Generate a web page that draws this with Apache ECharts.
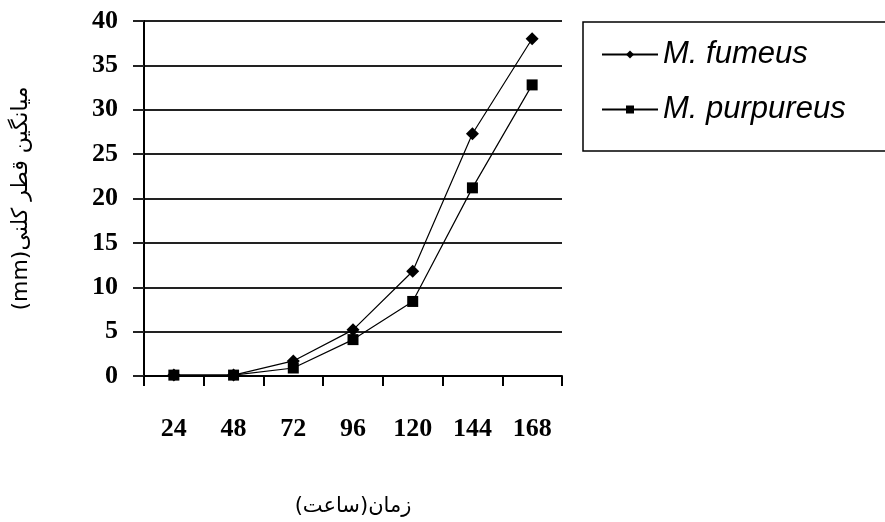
<!DOCTYPE html>
<html>
<head>
<meta charset="utf-8">
<script src="https://cdn.jsdelivr.net/npm/echarts@6/dist/echarts.min.js"></script>
<style>
  html, body { margin: 0; padding: 0; background: #fff; }
  #chart { width: 885px; height: 522px; }
</style>
</head>
<body>
<div id="chart"></div>
<script>
// Incubation time (hours)
const hours = ['24', '48', '72', '96', '120', '144', '168'];
// Mean colony diameter (mm) per species
const fumeus = [0.1, 0.1, 1.7, 5.2, 11.8, 27.3, 38.0];
const purpureus = [0.1, 0.1, 0.9, 4.1, 8.4, 21.2, 32.8];
const seriesNames = ['M. fumeus', 'M. purpureus'];
const yTicks = { min: 0, max: 40, step: 5 };

const chart = echarts.init(document.getElementById('chart'), null, { renderer: 'canvas' });

const tickFont = { fontFamily: 'Liberation Serif', fontWeight: 'bold', fontSize: 26, color: '#000' };

chart.setOption({
  animation: false,
  backgroundColor: '#fff',
  grid: { left: 144, right: 323, top: 21, bottom: 142, containLabel: false },
  legend: {
    orient: 'vertical',
    left: 596,
    top: 34,
    itemWidth: 56,
    itemHeight: 10,
    itemGap: 24,
    textStyle: { fontFamily: 'Liberation Sans', fontStyle: 'italic', fontSize: 31, color: '#000' },
    data: seriesNames
  },
  graphic: [{
    type: 'rect',
    shape: { x: 583, y: 22, width: 320, height: 129 },
    style: { fill: 'none', stroke: '#000', lineWidth: 1.5 },
    silent: true
  }],
  xAxis: {
    type: 'category',
    data: hours,
    boundaryGap: true,
    name: 'زمان(ساعت)',
    nameLocation: 'middle',
    nameGap: 120,
    nameTextStyle: { fontFamily: 'DejaVu Sans', fontSize: 21, color: '#000' },
    axisLine: { lineStyle: { color: '#000', width: 2 } },
    axisTick: { show: true, length: 10, lineStyle: { color: '#000', width: 2 } },
    axisLabel: Object.assign({ margin: 40, interval: 0 }, tickFont),
    splitLine: { show: false }
  },
  yAxis: {
    type: 'value',
    min: yTicks.min,
    max: yTicks.max,
    interval: yTicks.step,
    name: '(mm)میانگین قطر کلنی',
    nameLocation: 'middle',
    nameRotate: 90,
    nameGap: 112,
    nameTextStyle: { fontFamily: 'DejaVu Sans', fontSize: 22, color: '#000' },
    axisLine: { show: true, lineStyle: { color: '#000', width: 2 } },
    axisTick: { show: true, length: 11, lineStyle: { color: '#222', width: 2 } },
    axisLabel: Object.assign({ margin: 26 }, tickFont),
    splitLine: { show: true, lineStyle: { color: '#222', width: 2 } }
  },
  series: [
    {
      name: seriesNames[0],
      type: 'line',
      data: fumeus,
      symbol: 'diamond',
      symbolSize: 13,
      itemStyle: { color: '#000' },
      lineStyle: { color: '#000', width: 1.2 }
    },
    {
      name: seriesNames[1],
      type: 'line',
      data: purpureus,
      symbol: 'rect',
      symbolSize: 11,
      itemStyle: { color: '#000' },
      lineStyle: { color: '#000', width: 1.2 }
    }
  ]
});
</script>
</body>
</html>
